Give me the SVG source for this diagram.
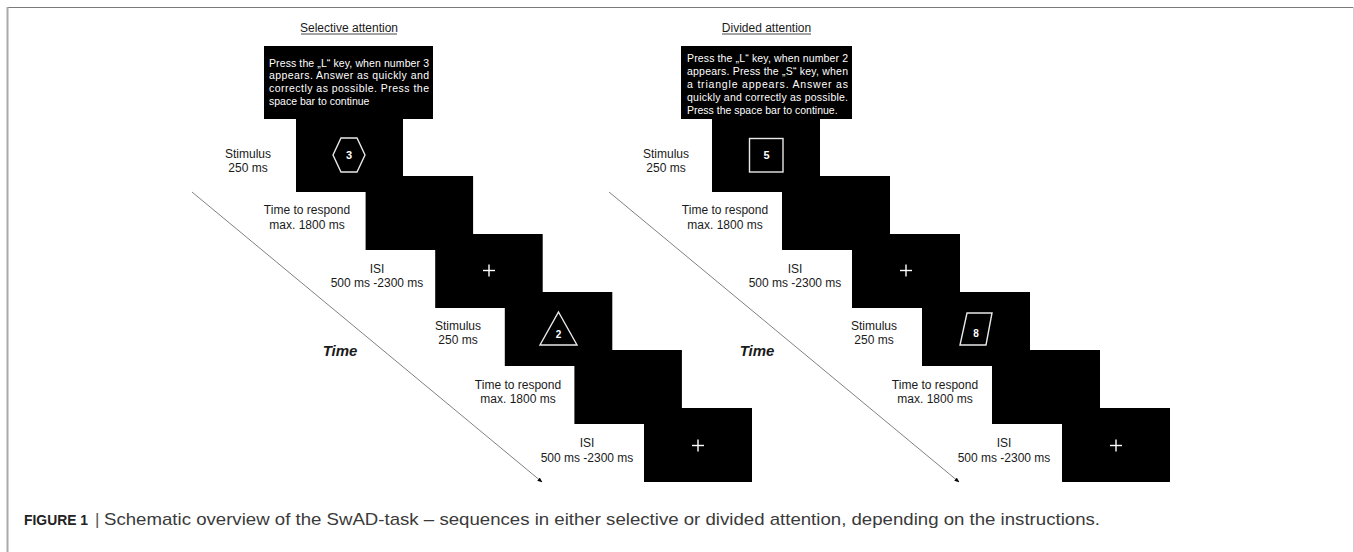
<svg xmlns="http://www.w3.org/2000/svg" width="1354" height="552" viewBox="0 0 1354 552">
<style>
.box{fill:#000}
.lbl{font-family:"Liberation Sans",Arial,sans-serif;font-size:12px;fill:#1a1a1a;text-anchor:middle}
.title{font-family:"Liberation Sans",Arial,sans-serif;font-size:12px;fill:#1a1a1a;text-anchor:middle}
.ins{font-family:"Liberation Sans",Arial,sans-serif;font-size:10.5px;fill:#fff}
.sym{fill:none;stroke:#e8e8e8;stroke-width:1.4}
.num{font-family:"Liberation Sans",Arial,sans-serif;font-weight:bold;font-size:11px;fill:#fff;text-anchor:middle}
.cross{stroke:#fff;stroke-width:1.4}
.time{font-family:"Liberation Sans",Arial,sans-serif;font-weight:bold;font-style:italic;font-size:15px;fill:#1a1a1a;text-anchor:middle}
.tl{stroke:#808080;stroke-width:1;fill:none}
.cap{font-family:"Liberation Sans",Arial,sans-serif;font-size:17px;fill:#3a3a3a}
</style>
<defs>
<marker id="ah" viewBox="0 0 10 10" refX="9" refY="5" markerWidth="5" markerHeight="5" orient="auto" markerUnits="userSpaceOnUse">
<path d="M0,1 L10,5 L0,9 z" fill="#000"/>
</marker>
</defs>
<rect width="1354" height="552" fill="#fff"/>
<g id="frame">
<line x1="7" y1="7.5" x2="1354" y2="7.5" stroke="#7a7a7a" stroke-width="1.2"/>
<line x1="7.5" y1="7" x2="7.5" y2="552" stroke="#aaa" stroke-width="2"/>
<line x1="1353.5" y1="7" x2="1353.5" y2="552" stroke="#d0d0d0" stroke-width="1"/>
</g>

<!-- Left panel: Selective attention -->
<g id="title-selective">
<text class="title" x="349" y="32">Selective attention</text>
<line x1="301" y1="34" x2="397" y2="34" stroke="#1a1a1a" stroke-width="0.8"/>
</g>
<g id="sel-instructions">
<rect class="box" x="264" y="46" width="169" height="73"/>
<text class="ins" x="269" y="66.5" textLength="160" lengthAdjust="spacing">Press the „L“ key, when number 3</text>
<text class="ins" x="269" y="79.3" textLength="160" lengthAdjust="spacing">appears. Answer as quickly and</text>
<text class="ins" x="269" y="92.1" textLength="160" lengthAdjust="spacing">correctly as possible. Press the</text>
<text class="ins" x="269" y="104.9">space bar to continue</text>
</g>
<g id="sel-stimulus1">
<rect class="box" x="296" y="118" width="107" height="74"/>
<polygon class="sym" points="333,155 341,138 357,138 365,155 357,172 341,172"/>
<text class="num" x="349" y="159">3</text>
<text class="lbl" x="248" y="157.5">Stimulus</text>
<text class="lbl" x="248" y="171.5">250 ms</text>
</g>
<g id="sel-respond1">
<rect class="box" x="365.6" y="176" width="107.5" height="74"/>
<text class="lbl" x="307" y="214">Time to respond</text>
<text class="lbl" x="307" y="228.5">max. 1800 ms</text>
</g>
<g id="sel-isi1">
<rect class="box" x="435.2" y="234" width="107.5" height="74"/>
<line class="cross" x1="483" y1="270.5" x2="495" y2="270.5"/>
<line class="cross" x1="489" y1="264.5" x2="489" y2="276.5"/>
<text class="lbl" x="377" y="272.7">ISI</text>
<text class="lbl" x="377" y="286.7">500 ms -2300 ms</text>
</g>
<g id="sel-stimulus2">
<rect class="box" x="504.8" y="292" width="107.5" height="74"/>
<polygon class="sym" points="558.5,312 577,345 540,345"/>
<text class="num" x="558.5" y="337.5" style="font-size:10px">2</text>
<text class="lbl" x="458" y="330">Stimulus</text>
<text class="lbl" x="458" y="344.3">250 ms</text>
</g>
<g id="sel-respond2">
<rect class="box" x="574.4" y="350" width="107.5" height="74"/>
<text class="lbl" x="518" y="389.3">Time to respond</text>
<text class="lbl" x="518" y="403.3">max. 1800 ms</text>
</g>
<g id="sel-isi2">
<rect class="box" x="644" y="408" width="108" height="74"/>
<line class="cross" x1="692" y1="445.5" x2="704" y2="445.5"/>
<line class="cross" x1="698" y1="439.5" x2="698" y2="451.5"/>
<text class="lbl" x="587" y="447.3">ISI</text>
<text class="lbl" x="587" y="461.7">500 ms -2300 ms</text>
</g>
<g id="sel-time-label">
<text class="time" x="340" y="355.5">Time</text>
</g>

<!-- Right panel: Divided attention -->
<g id="title-divided">
<text class="title" x="766.5" y="32">Divided attention</text>
<line x1="722" y1="34" x2="811" y2="34" stroke="#1a1a1a" stroke-width="0.8"/>
</g>
<g id="div-instructions">
<rect class="box" x="681" y="46" width="171" height="73"/>
<text class="ins" x="687" y="62" textLength="161" lengthAdjust="spacing">Press the „L“ key, when number 2</text>
<text class="ins" x="687" y="75" textLength="161" lengthAdjust="spacing">appears. Press the „S“ key, when</text>
<text class="ins" x="687" y="88" textLength="161" lengthAdjust="spacing">a triangle appears. Answer as</text>
<text class="ins" x="687" y="100.8" textLength="161" lengthAdjust="spacing">quickly and correctly as possible.</text>
<text class="ins" x="687" y="113.6">Press the space bar to continue.</text>
</g>
<g id="div-stimulus1">
<rect class="box" x="712" y="118" width="108" height="74"/>
<rect class="sym" x="749.5" y="138.5" width="33.5" height="33.5"/>
<text class="num" x="766.5" y="159">5</text>
<text class="lbl" x="666" y="157.5">Stimulus</text>
<text class="lbl" x="666" y="171.5">250 ms</text>
</g>
<g id="div-respond1">
<rect class="box" x="782" y="176" width="108" height="74"/>
<text class="lbl" x="725" y="214">Time to respond</text>
<text class="lbl" x="725" y="228.5">max. 1800 ms</text>
</g>
<g id="div-isi1">
<rect class="box" x="852" y="234" width="108" height="74"/>
<line class="cross" x1="900" y1="270.5" x2="912" y2="270.5"/>
<line class="cross" x1="906" y1="264.5" x2="906" y2="276.5"/>
<text class="lbl" x="795" y="272.7">ISI</text>
<text class="lbl" x="795" y="286.7">500 ms -2300 ms</text>
</g>
<g id="div-stimulus2">
<rect class="box" x="922" y="292" width="108" height="74"/>
<polygon class="sym" points="967,313 992,313 986,345 960,345"/>
<text class="num" x="976" y="336.5" style="font-size:10px">8</text>
<text class="lbl" x="874" y="330">Stimulus</text>
<text class="lbl" x="874" y="344.3">250 ms</text>
</g>
<g id="div-respond2">
<rect class="box" x="992" y="350" width="108" height="74"/>
<text class="lbl" x="935" y="389.3">Time to respond</text>
<text class="lbl" x="935" y="403.3">max. 1800 ms</text>
</g>
<g id="div-isi2">
<rect class="box" x="1062" y="408" width="108" height="74"/>
<line class="cross" x1="1110" y1="445.5" x2="1122" y2="445.5"/>
<line class="cross" x1="1116" y1="439.5" x2="1116" y2="451.5"/>
<text class="lbl" x="1004" y="447.3">ISI</text>
<text class="lbl" x="1004" y="461.7">500 ms -2300 ms</text>
</g>
<g id="div-time-label">
<text class="time" x="757" y="355.5">Time</text>
</g>

<g id="connectors">
<line class="tl" x1="192" y1="192" x2="542" y2="482" marker-end="url(#ah)"/>
<line class="tl" x1="609" y1="192" x2="959" y2="482" marker-end="url(#ah)"/>
</g>

<g id="caption">
<text class="cap" x="24" y="525" font-weight="bold" textLength="64" lengthAdjust="spacingAndGlyphs" style="fill:#222;font-size:15.5px">FIGURE 1</text>
<text class="cap" x="95" y="525" style="fill:#555">|</text>
<text class="cap" x="104" y="525" textLength="996" lengthAdjust="spacingAndGlyphs">Schematic overview of the SwAD-task – sequences in either selective or divided attention, depending on the instructions.</text>
</g>
</svg>
